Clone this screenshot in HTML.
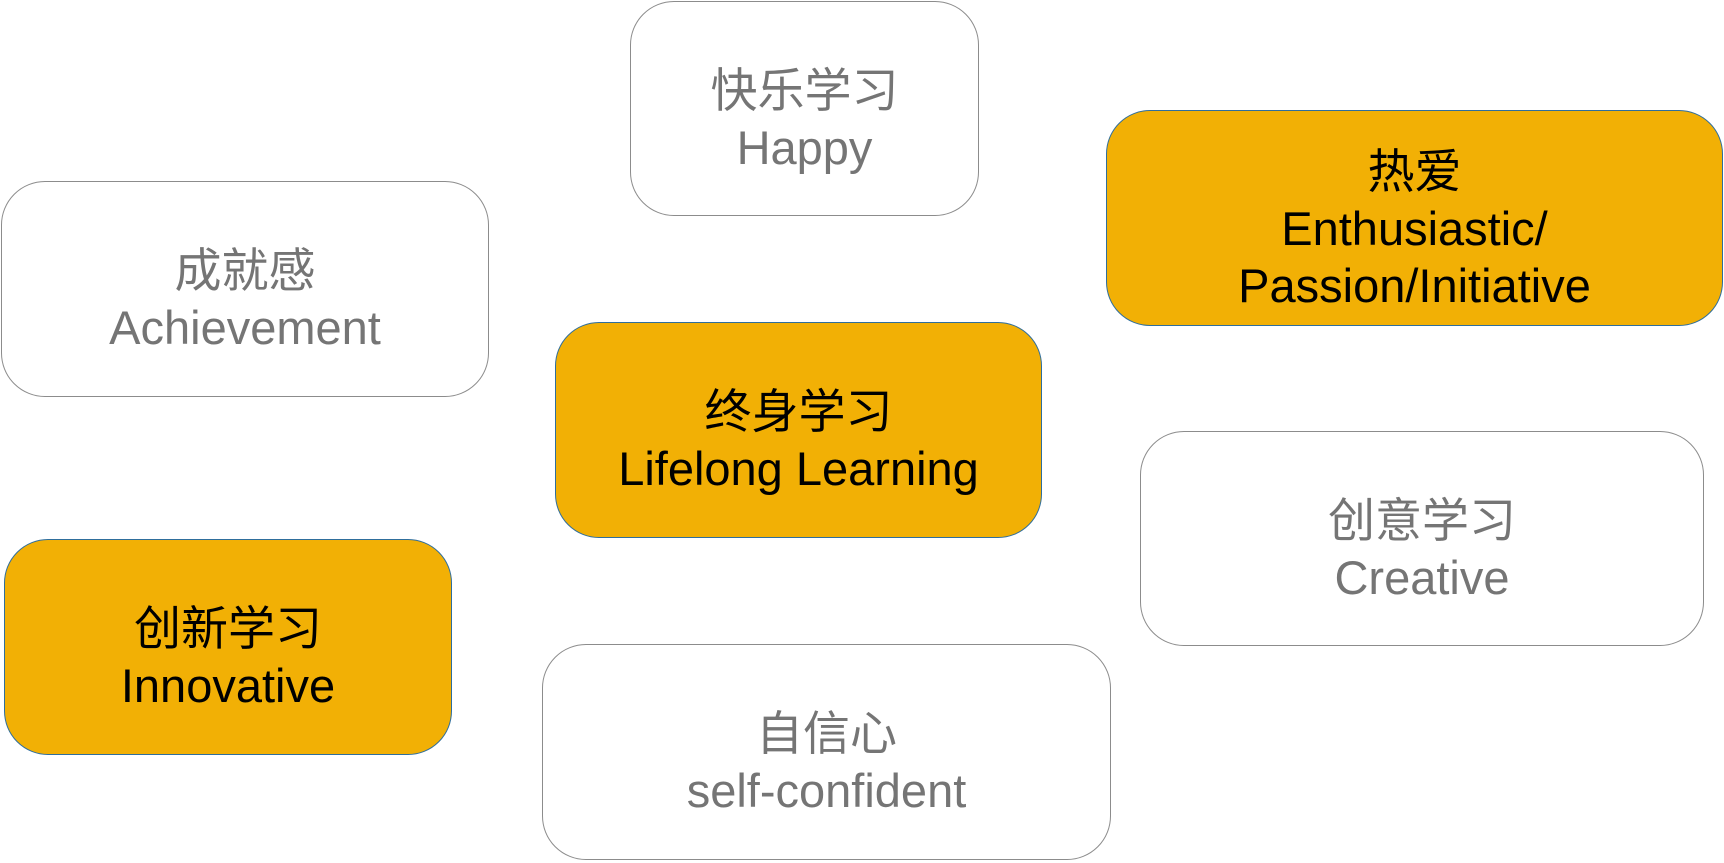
<!DOCTYPE html>
<html><head><meta charset="utf-8"><style>
html,body{margin:0;padding:0;background:#fff;width:1724px;height:863px;overflow:hidden;position:relative}
.b{position:absolute;box-sizing:border-box;border-radius:44px;display:flex;flex-direction:column;align-items:center;justify-content:center;text-align:center;font-family:"Liberation Sans","Noto Sans CJK SC",sans-serif;font-size:47px;line-height:57px;padding-top:20px}
.w{border:1.3px solid #8c8c8c;color:#757575;background:#fff}
.o{border:1.3px solid #2f6e9c;color:#000;background:#f2b005}
</style></head><body>
<div class="b w" style="left:630px;top:1px;width:349px;height:215px">快乐学习<br>Happy</div>
<div class="b w" style="left:1px;top:181px;width:488px;height:216px">成就感<br>Achievement</div>
<div class="b o" style="left:1106px;top:110px;width:617px;height:216px">热爱<br>Enthusiastic/<br>Passion/Initiative</div>
<div class="b o" style="left:555px;top:322px;width:487px;height:216px">终身学习<br>Lifelong Learning</div>
<div class="b w" style="left:1140px;top:431px;width:564px;height:215px">创意学习<br>Creative</div>
<div class="b o" style="left:4px;top:539px;width:448px;height:216px">创新学习<br>Innovative</div>
<div class="b w" style="left:542px;top:644px;width:569px;height:216px">自信心<br>self-confident</div>
</body></html>
